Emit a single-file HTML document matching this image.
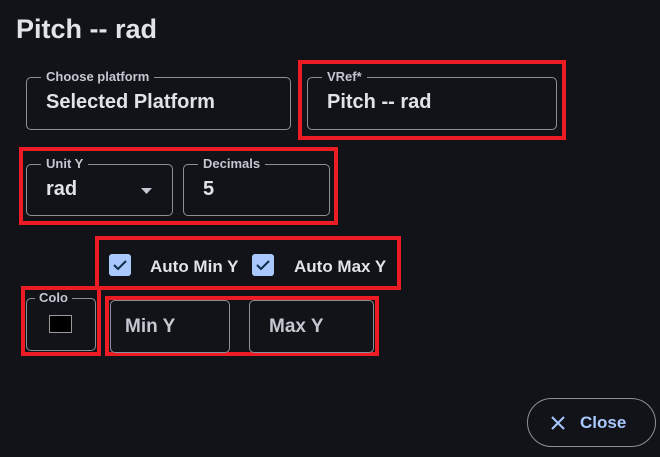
<!DOCTYPE html>
<html><head><meta charset="utf-8"><style>
*{margin:0;padding:0;box-sizing:border-box}
body{width:660px;height:457px;background:#111318;font-family:"Liberation Sans",sans-serif;position:relative;overflow:hidden;color:#e2e2e9}
.a{position:absolute}
.f{position:absolute;border:1px solid #8e9099;border-radius:5px}
.lb{position:absolute;top:-9px;left:14px;padding:0 5px;background:#111318;font-size:13px;font-weight:bold;color:#c4c6d0;line-height:16px;white-space:nowrap}
.v{position:absolute;left:19px;font-size:20px;font-weight:bold;color:#e2e2e9;line-height:24px}
.r{position:absolute;border:4px solid #ed1c24}
.cb{position:absolute;width:22px;height:22px;background:#a8c8ff;border-radius:3px}
.t{position:absolute;font-size:17px;font-weight:bold;color:#e2e2e9;line-height:20px}
</style></head><body>
<div class="a" style="left:16px;top:13px;font-size:27px;font-weight:bold;color:#e2e2e9;line-height:32px">Pitch -- rad</div>

<div class="f" style="left:26px;top:77px;width:265px;height:53px"><div class="lb">Choose platform</div><div class="v" style="top:12px">Selected Platform</div></div>

<div class="r" style="left:298px;top:60px;width:268px;height:80px"></div>
<div class="f" style="left:307px;top:77px;width:250px;height:53px"><div class="lb">VRef*</div><div class="v" style="top:12px">Pitch -- rad</div></div>

<div class="r" style="left:19px;top:147px;width:319px;height:78px"></div>
<div class="f" style="left:26px;top:164px;width:147px;height:52px"><div class="lb">Unit Y</div><div class="v" style="top:12px">rad</div>
<svg class="a" style="left:113px;top:22px" width="14" height="8"><path d="M1 1h11l-5.5 6z" fill="#c4c6d0"/></svg></div>
<div class="f" style="left:183px;top:164px;width:147px;height:52px"><div class="lb">Decimals</div><div class="v" style="top:12px">5</div></div>

<div class="r" style="left:95px;top:236px;width:306px;height:54px"></div>
<div class="cb" style="left:109px;top:254px"><svg width="22" height="22"><path d="M5 11l4 4 8-8" stroke="#0f2b4a" stroke-width="2" fill="none"/></svg></div>
<div class="t" style="left:150px;top:257px">Auto Min Y</div>
<div class="cb" style="left:252px;top:254px"><svg width="22" height="22"><path d="M5 11l4 4 8-8" stroke="#0f2b4a" stroke-width="2" fill="none"/></svg></div>
<div class="t" style="left:294px;top:257px">Auto Max Y</div>

<div class="r" style="left:21px;top:286px;width:80px;height:70px"></div>
<div class="f" style="left:26px;top:298px;width:70px;height:53px;"><div class="lb" style="left:8px;width:37px;overflow:hidden;padding:0 4px"><div style="width:29px;overflow:hidden">Color</div></div>
<div class="a" style="left:22px;top:16px;width:23px;height:18px;background:#000;border:1px solid #9a9a9a"></div></div>

<div class="r" style="left:105px;top:296px;width:274px;height:60px"></div>
<div class="f" style="left:110px;top:300px;width:120px;height:53px"><div class="t" style="left:14px;top:16px;font-size:19px;color:#c4c6d0">Min Y</div></div>
<div class="f" style="left:249px;top:300px;width:125px;height:53px"><div class="t" style="left:19px;top:16px;font-size:19px;color:#c4c6d0">Max Y</div></div>

<div class="a" style="left:527px;top:398px;width:129px;height:49px;border:1px solid #8e9099;border-radius:25px">
<svg class="a" style="left:23px;top:17px" width="14" height="14"><path d="M1 1l12 12M13 1L1 13" stroke="#a8c8ff" stroke-width="2"/></svg>
<div class="a" style="left:52px;top:13px;font-size:17px;font-weight:bold;color:#a8c8ff;line-height:22px">Close</div></div>
</body></html>
